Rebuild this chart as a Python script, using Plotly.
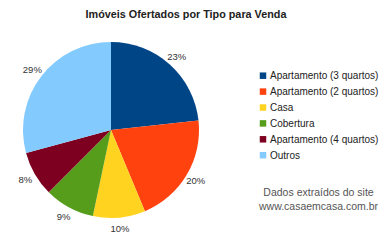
import plotly.graph_objects as go

categories = ["Apartamento (3 quartos)", "Apartamento (2 quartos)", "Casa", "Cobertura",
              "Apartamento (4 quartos)", "Outros"]
values = [23.3, 20.4, 9.6, 9.2, 8.3, 29.2]
colors = ["#004586", "#ff420e", "#ffd320", "#579d1c", "#7e0021", "#83caff"]

W, H = 385, 240
FONT = "Liberation Sans, Arial, sans-serif"

# pie centre / radius in pixels
CX, CY, R = 111, 130, 88
# invisible ring used only to place the percentage labels at each slice's mid-angle
R_LAB, HOLE_LAB = 110, 0.7955
LAB_SIZE = 9.5


def dom(r):
    return dict(x=[(CX - r) / W, (CX + r) / W], y=[max(0, 1 - (CY + r) / H), 1 - (CY - r) / H])


fig = go.Figure()
fig.add_trace(go.Pie(
    labels=categories, values=values, sort=False, direction="clockwise", rotation=0,
    marker=dict(colors=colors, line=dict(width=0)),
    textinfo="none", domain=dom(R), hoverinfo="skip", showlegend=False,
))
fig.add_trace(go.Pie(
    labels=categories, values=values, sort=False, direction="clockwise", rotation=0,
    hole=HOLE_LAB,
    marker=dict(colors=["rgba(0,0,0,0)"] * len(values), line=dict(width=0)),
    texttemplate="%{percent:.0%}", textposition="inside", insidetextorientation="horizontal",
    insidetextfont=dict(family=FONT, size=LAB_SIZE, color="#333333"),
    domain=dom(R_LAB), hoverinfo="skip", showlegend=False,
))

# legend drawn as paper-anchored squares + labels
leg_x_sq, leg_x_txt, leg_y0, leg_dy, sq = 263, 268, 75.7, 15.9, 6.5
shapes, annotations = [], []
for i, (name, col) in enumerate(zip(categories, colors)):
    yc = leg_y0 + i * leg_dy
    shapes.append(dict(type="rect", xref="paper", yref="paper",
                       x0=(leg_x_sq - sq / 2) / W, x1=(leg_x_sq + sq / 2) / W,
                       y0=1 - (yc + sq / 2) / H, y1=1 - (yc - sq / 2) / H,
                       fillcolor=col, line=dict(width=0)))
    annotations.append(dict(text=name, xref="paper", yref="paper", x=leg_x_txt / W, y=1 - yc / H,
                            xanchor="left", yanchor="middle", showarrow=False,
                            font=dict(family=FONT, size=10, color="#222222")))

annotations.append(dict(text="Dados extraídos do site<br>www.casaemcasa.com.br", x=318 / W, y=1 - 199 / H,
                        xref="paper", yref="paper", xanchor="center", yanchor="middle", showarrow=False,
                        font=dict(family=FONT, size=10.5, color="#555555"), align="center"))

fig.update_layout(
    width=W, height=H, margin=dict(l=0, r=0, t=0, b=0),
    paper_bgcolor="white", plot_bgcolor="white",
    font=dict(family=FONT, size=10, color="#222222"),
    title=dict(text="<b>Imóveis Ofertados por Tipo para Venda</b>", x=186 / W, xanchor="center",
               y=1 - 14 / H, yanchor="middle", font=dict(size=10.8, color="#222222")),
    showlegend=False,
    shapes=shapes, annotations=annotations,
)
fig.write_html("out.html")
